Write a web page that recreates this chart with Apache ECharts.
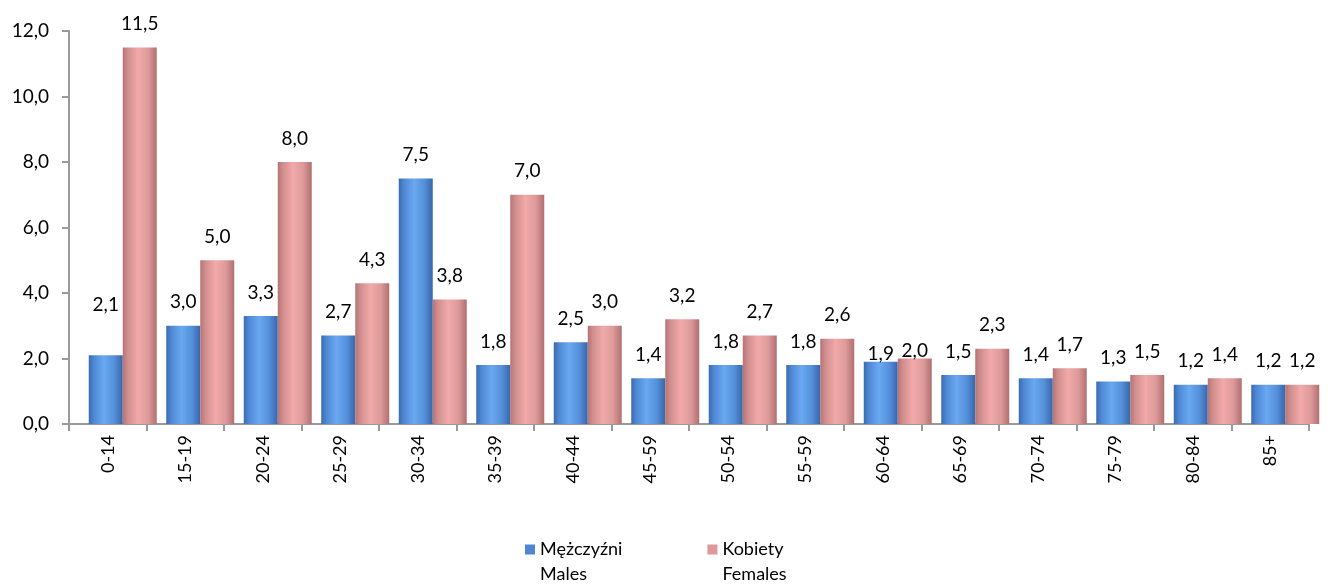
<!DOCTYPE html>
<html><head><meta charset="utf-8">
<script src="https://cdn.jsdelivr.net/npm/echarts@6/dist/echarts.min.js"></script>
<style>html,body{margin:0;padding:0;background:#fff}#c{width:1332px;height:584px}</style>
</head><body><div id="c"></div>
<script>
var categories = ['0-14','15-19','20-24','25-29','30-34','35-39','40-44','45-59','50-54','55-59','60-64','65-69','70-74','75-79','80-84','85+'];
var males = [2.1,3.0,3.3,2.7,7.5,1.8,2.5,1.4,1.8,1.8,1.9,1.5,1.4,1.3,1.2,1.2];
var females = [11.5,5.0,8.0,4.3,3.8,7.0,3.0,3.2,2.7,2.6,2.0,2.3,1.7,1.5,1.4,1.2];
var seriesNames = ['Mężczyźni\nMales','Kobiety\nFemales'];

var FONT = 'Lato';
function fmt(v){ return v.toFixed(1).replace('.', ','); }
function grad(stops){
  return new echarts.graphic.LinearGradient(0,0,1,0, stops.map(function(s){return {offset:s[0], color:s[1]};}));
}
var blueGrad = grad([[0,'#3a6bb0'],[0.15,'#4f88d4'],[0.45,'#6aa8f2'],[0.75,'#5590da'],[1,'#3866aa']]);
var pinkGrad = grad([[0,'#b57373'],[0.15,'#d18e8e'],[0.45,'#f2a9a9'],[0.75,'#dd9a9a'],[1,'#b16f6f']]);

// label vertical adjustments (layout only)
var maleLabelShift = {0:-27, 10:16};
var femaleLabelShift = {10:16};
function buildData(arr, shift){
  return arr.map(function(v,i){
    var d = {value:v};
    if (shift[i] !== undefined) d.label = {offset:[0, shift[i]]};
    return d;
  });
}
var labelCommon = {show:true, position:'top', distance:14, color:'#000', fontFamily:FONT, fontSize:19,
  formatter:function(p){return fmt(p.value);}};

// legend marker: square at top of a taller icon box so it lines up with the first text line
var legendIcon = 'path://M0,0h10v10h-10z M0,34.98L0.02,35';

var chart = echarts.init(document.getElementById('c'));
chart.setOption({
  animation:false,
  textStyle:{fontFamily:FONT},
  grid:[
    {left:69, top:31, width:1240, height:393},
    {left:84, top:31, width:1240, height:393}
  ],
  xAxis:[
    {type:'category', gridIndex:0, data:categories, boundaryGap:true,
     axisLine:{lineStyle:{color:'#9a9a9a', width:2}},
     axisTick:{show:true, interval:0, length:7, lineStyle:{color:'#9a9a9a', width:2}},
     axisLabel:{interval:0, rotate:90, color:'#000', fontSize:18, fontFamily:FONT, margin:11}},
    {type:'category', gridIndex:1, data:categories, show:false}
  ],
  yAxis:[
    {type:'value', gridIndex:0, min:0, max:12, interval:2,
     axisLine:{show:true, lineStyle:{color:'#9a9a9a', width:2}},
     axisTick:{show:true, length:7, lineStyle:{color:'#9a9a9a', width:2}},
     splitLine:{show:false},
     axisLabel:{color:'#000', fontSize:19, fontFamily:FONT, margin:20, formatter:function(v){return fmt(v);}}},
    {type:'value', gridIndex:1, min:0, max:12, show:false, splitLine:{show:false}}
  ],
  legend:{
    left:520, top:532, itemWidth:10, itemHeight:35, itemGap:85, icon:legendIcon,
    textStyle:{fontFamily:FONT, fontSize:18, color:'#000', lineHeight:25},
    data:[
      {name:seriesNames[0], itemStyle:{color:'#4f86d4'}},
      {name:seriesNames[1], itemStyle:{color:'#df9797'}}
    ]
  },
  series:[
    {name:seriesNames[0], type:'bar', xAxisIndex:1, yAxisIndex:1, barWidth:34, barGap:'0%',
     itemStyle:{color:blueGrad}, label:labelCommon, data:buildData(males, maleLabelShift)},
    {name:seriesNames[1], type:'bar', xAxisIndex:1, yAxisIndex:1, barWidth:34, barGap:'0%',
     itemStyle:{color:pinkGrad}, label:labelCommon, data:buildData(females, femaleLabelShift)}
  ]
});
</script></body></html>
